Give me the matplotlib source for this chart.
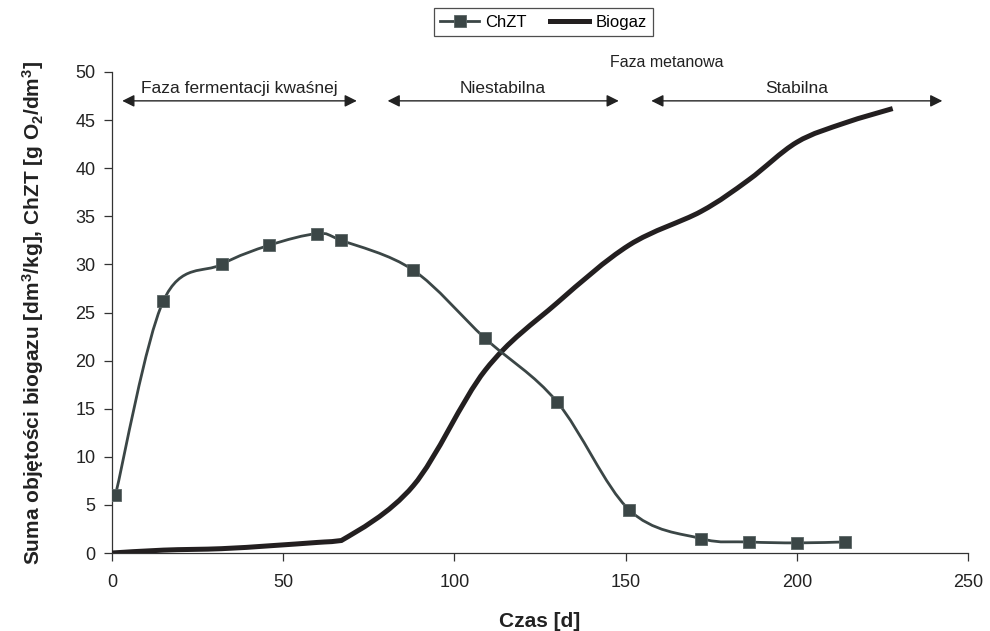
import matplotlib
matplotlib.use("Agg")
import matplotlib.pyplot as plt
from matplotlib.path import Path
from matplotlib.patches import PathPatch
from matplotlib.lines import Line2D

plt.rcParams['font.family'] = ['Liberation Sans', 'DejaVu Sans']
plt.rcParams['mathtext.fontset'] = 'custom'
plt.rcParams['mathtext.rm'] = 'Liberation Sans'
plt.rcParams['mathtext.bf'] = 'Liberation Sans:bold'

# ---- data ----
chzt_days = [1, 15, 32, 46, 60, 67, 88, 109, 130, 151, 172, 186, 200, 214]
chzt_vals = [6.0, 26.2, 30.0, 32.0, 33.2, 32.5, 29.4, 22.3, 15.7, 4.5, 1.5, 1.15, 1.05, 1.15]

biogas_days = [0, 15, 32, 46, 60, 67, 88, 109, 130, 151, 172, 186, 200, 214, 228]
biogas_vals = [0.0, 0.3, 0.45, 0.75, 1.1, 1.3, 7.0, 19.0, 26.0, 32.0, 35.5, 38.8, 42.7, 44.7, 46.2]

xticks = [0, 50, 100, 150, 200, 250]
yticks = [0, 5, 10, 15, 20, 25, 30, 35, 40, 45, 50]

phases = ["Faza fermentacji kwaśnej", "Niestabilna", "Stabilna"]
phase_start = [3, 80.5, 157.5]
phase_end = [71.5, 148, 242.5]
phase_title = "Faza metanowa"

CHZT_COLOR = '#3b4646'
BIO_COLOR = '#231f20'


def smooth_path(xs, ys, clamp=False):
    """Catmull-Rom style cubic Bezier path through the data points."""
    verts = [(xs[0], ys[0])]
    codes = [Path.MOVETO]
    n = len(xs)
    for i in range(n - 1):
        x0, y0 = (xs[i - 1], ys[i - 1]) if i > 0 else (xs[i], ys[i])
        x1, y1 = xs[i], ys[i]
        x2, y2 = xs[i + 1], ys[i + 1]
        x3, y3 = (xs[i + 2], ys[i + 2]) if i + 2 < n else (xs[i + 1], ys[i + 1])
        c1x, c1y = x1 + (x2 - x0) / 6.0, y1 + (y2 - y0) / 6.0
        c2x, c2y = x2 - (x3 - x1) / 6.0, y2 - (y3 - y1) / 6.0
        if clamp:
            lo, hi = min(y1, y2), max(y1, y2)
            c1y = min(max(c1y, lo), hi)
            c2y = min(max(c2y, lo), hi)
        verts += [(c1x, c1y), (c2x, c2y), (x2, y2)]
        codes += [Path.CURVE4] * 3
    return Path(verts, codes)


fig = plt.figure(figsize=(9.9, 6.31), dpi=100)
ax = fig.add_axes([0.1131, 0.1236, 0.8647, 0.7623])

ax.add_patch(PathPatch(smooth_path(biogas_days, biogas_vals, clamp=True), facecolor='none',
                       edgecolor=BIO_COLOR, lw=3.6, capstyle='butt', zorder=3))
ax.add_patch(PathPatch(smooth_path(chzt_days, chzt_vals), facecolor='none',
                       edgecolor=CHZT_COLOR, lw=2.0, zorder=4))
ax.plot(chzt_days, chzt_vals, linestyle='none', marker='s', markersize=8.5,
        color=CHZT_COLOR, markeredgecolor='#5a6464', markeredgewidth=0.6, zorder=5)

ax.set_xlim(0, 250)
ax.set_ylim(0, 50)
ax.set_xticks(xticks)
ax.set_yticks(yticks)
ax.spines['top'].set_visible(False)
ax.spines['right'].set_visible(False)
for s in ['left', 'bottom']:
    ax.spines[s].set_color('#333333')
    ax.spines[s].set_linewidth(0.9)
ax.tick_params(axis='both', direction='out', length=6, width=0.9, colors='#333333',
               labelsize=13, labelcolor='#222222', pad=9)
ax.tick_params(axis='y', pad=6)

ax.set_xlabel("Czas [d]", fontsize=15, fontweight='bold', labelpad=15, color='#222222')
ax.set_ylabel(r"Suma objętości biogazu [dm$\mathbf{^3}$/kg], ChZT [g O$\mathbf{_2}$/dm$\mathbf{^3}$]",
              fontsize=15, fontweight='bold', labelpad=21, color='#222222')

# phase arrows
for name, a, b in zip(phases, phase_start, phase_end):
    ax.annotate('', xy=(a, 47), xytext=(b, 47),
                arrowprops=dict(arrowstyle='<|-|>', color='#222222', lw=1.0,
                                mutation_scale=18, shrinkA=0, shrinkB=0),
                annotation_clip=False)
    ax.text((a + b) / 2, 48.3, name, ha='center', va='center', fontsize=12.5, color='#222222')
ax.text(162, 51.0, phase_title, ha='center', va='center', fontsize=11.5, color='#222222')

handles = [Line2D([], [], color=CHZT_COLOR, lw=2.0, marker='s', markersize=8.5,
                  markeredgecolor='#5a6464', markeredgewidth=0.6),
           Line2D([], [], color=BIO_COLOR, lw=3.6)]
leg = fig.legend(handles, ['ChZT', 'Biogaz'], loc='center', bbox_to_anchor=(0.549, 0.965),
                 ncol=2, frameon=True, fancybox=False, fontsize=12, handlelength=2.3,
                 columnspacing=1.4, handletextpad=0.4, borderpad=0.4)
leg.get_frame().set_edgecolor('#222222')
leg.get_frame().set_linewidth(0.9)

fig.savefig('out.png', dpi=100)
